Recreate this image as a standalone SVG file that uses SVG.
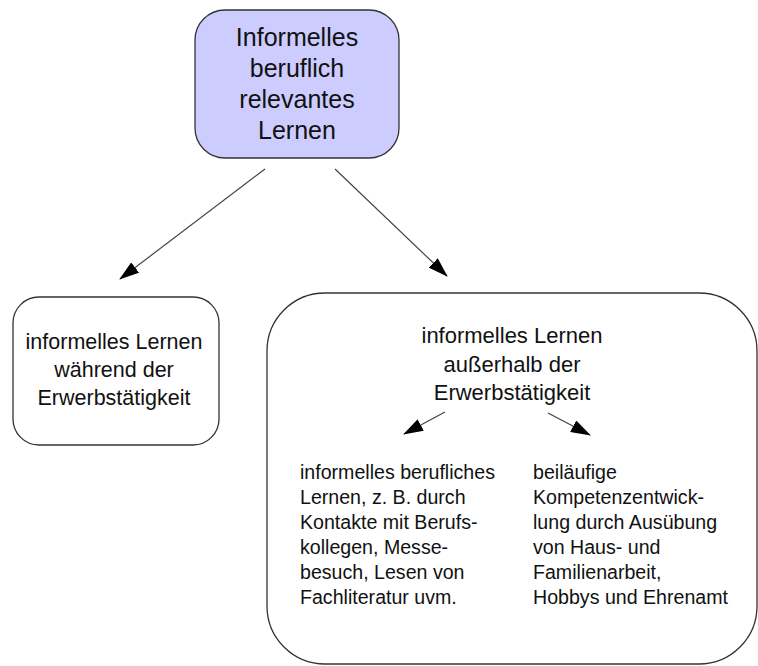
<svg xmlns="http://www.w3.org/2000/svg" width="758" height="666" viewBox="0 0 758 666">
<style>
text{font-family:"Liberation Sans",Arial,sans-serif;fill:#111}
.box{stroke:#333;stroke-width:1.3}
.c{stroke:#444;stroke-width:1.2;fill:none}
</style>
<defs>
<marker id="ah" viewBox="0 0 20 13" refX="19" refY="6.5" markerWidth="20" markerHeight="13" markerUnits="userSpaceOnUse" orient="auto">
<path d="M0,0 L20,6.5 L0,13 Z" fill="#000"/>
</marker>
</defs>
<rect width="758" height="666" fill="#fff"/>
<g id="root">
<rect class="box" x="195" y="10" width="204" height="148" rx="30" fill="#ccccff"/>
<text x="297" y="46" font-size="25" text-anchor="middle">Informelles</text>
<text x="297" y="77" font-size="25" text-anchor="middle">beruflich</text>
<text x="297" y="108" font-size="25" text-anchor="middle">relevantes</text>
<text x="297" y="139" font-size="25" text-anchor="middle">Lernen</text>
</g>
<g id="left">
<rect class="box" x="13" y="297" width="206" height="148" rx="26" fill="#fff"/>
<text x="114" y="349" font-size="21.5" text-anchor="middle">informelles Lernen</text>
<text x="114" y="377" font-size="21.5" text-anchor="middle">während der</text>
<text x="114" y="405" font-size="21.5" text-anchor="middle">Erwerbstätigkeit</text>
</g>
<g id="right">
<rect class="box" x="267" y="293" width="490" height="371" rx="58" fill="#fff"/>
<text x="512" y="343" font-size="22" text-anchor="middle">informelles Lernen</text>
<text x="512" y="372" font-size="22" text-anchor="middle">außerhalb der</text>
<text x="512" y="400" font-size="22" text-anchor="middle">Erwerbstätigkeit</text>
</g>
<g id="sub-left">
<text x="300" y="479" font-size="19.6">informelles berufliches</text>
<text x="300" y="504" font-size="19.6">Lernen, z. B. durch</text>
<text x="300" y="529" font-size="19.6">Kontakte mit Berufs-</text>
<text x="300" y="554" font-size="19.6">kollegen, Messe-</text>
<text x="300" y="579" font-size="19.6">besuch, Lesen von</text>
<text x="300" y="604" font-size="19.6">Fachliteratur uvm.</text>
</g>
<g id="sub-right">
<text x="533" y="479" font-size="19.6">beiläufige</text>
<text x="533" y="504" font-size="19.6">Kompetenzentwick-</text>
<text x="533" y="529" font-size="19.6">lung durch Ausübung</text>
<text x="533" y="554" font-size="19.6">von Haus- und</text>
<text x="533" y="579" font-size="19.6">Familienarbeit,</text>
<text x="533" y="604" font-size="19.6">Hobbys und Ehrenamt</text>
</g>
<g id="connectors">
<line class="c" x1="265" y1="169" x2="120" y2="279" marker-end="url(#ah)"/>
<line class="c" x1="335" y1="169" x2="447" y2="276" marker-end="url(#ah)"/>
<line class="c" x1="445" y1="412" x2="404" y2="434" marker-end="url(#ah)"/>
<line class="c" x1="548" y1="413" x2="590" y2="435" marker-end="url(#ah)"/>
</g>
</svg>
